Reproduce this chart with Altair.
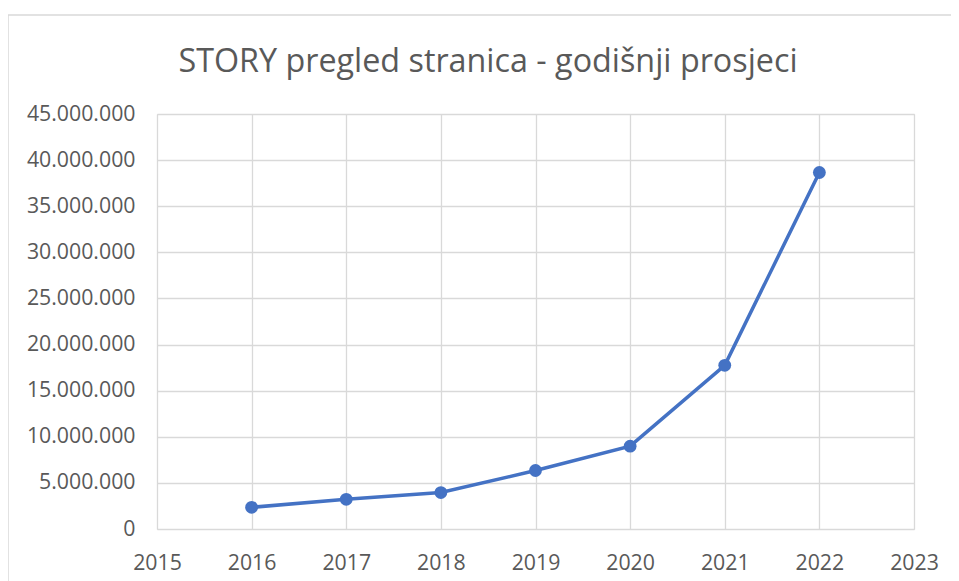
import altair as alt
import pandas as pd

years = [2016, 2017, 2018, 2019, 2020, 2021, 2022]
views = [2350000, 3220000, 3950000, 6340000, 8980000, 17750000, 38660000]

x_ticks = list(range(2015, 2024))
y_ticks = list(range(0, 45000001, 5000000))

title_text = "STORY pregled stranica - godišnji prosjeci"

df = pd.DataFrame({"year": years, "views": views})

W, H = 757, 415
PAD = {"left": 149, "top": 106, "right": 37, "bottom": 56}
GRID = "#d9d9d9"
TXT = "#595959"
FONT = "Open Sans"
LBL = 21.3

x_enc = alt.X(
    "year:Q",
    scale=alt.Scale(domain=[2015, 2023], nice=False, zero=False),
    axis=alt.Axis(
        values=x_ticks, format="d", title=None, grid=True, gridColor=GRID,
        gridWidth=1.3, domain=False, ticks=False, labelPadding=23,
        labelFlush=False, labelOverlap=False,
        labelFontSize=LBL, labelColor=TXT, labelFont=FONT,
    ),
)
y_enc = alt.Y(
    "views:Q",
    scale=alt.Scale(domain=[0, 45000000], nice=False),
    axis=alt.Axis(
        values=y_ticks, title=None, grid=True, gridColor=GRID, gridWidth=1.3,
        domain=False, ticks=False, labelPadding=22, labelFontSize=LBL,
        labelFlush=False, labelOverlap=False,
        labelColor=TXT, labelFont=FONT,
        labelExpr="replace(format(datum.value, ','), regexp(',', 'g'), '.')",
    ),
)

line = alt.Chart(df).mark_line(color="#4472C4", strokeWidth=3.5).encode(x=x_enc, y=y_enc)
pts = alt.Chart(df).mark_circle(color="#4472C4", size=165, opacity=1).encode(x="year:Q", y="views:Q")

frame_data = alt.Data(values=[{"k": 1}])
frame_left = alt.Chart(frame_data).mark_rule(color=GRID, strokeWidth=1.5).encode(
    x=alt.value(-PAD["left"]), y=alt.value(-99), y2=alt.value(H + PAD["bottom"] + 10)
)
frame_top = alt.Chart(frame_data).mark_rule(color=GRID, strokeWidth=1.5).encode(
    x=alt.value(-PAD["left"]), x2=alt.value(W + PAD["right"] + 10), y=alt.value(-99)
)

title_mark = alt.Chart(alt.Data(values=[{"t": title_text}])).mark_text(
    font=FONT, fontSize=32.3, color=TXT, align="center", baseline="alphabetic"
).encode(text="t:N", x=alt.value(331), y=alt.value(-42))

chart = alt.layer(frame_left, frame_top, title_mark, line, pts).properties(
    width=W, height=H,
    autosize=alt.AutoSizeParams(type="none"),
    padding=PAD,
).configure_view(stroke=None).configure(background="white")

chart.save("out.html", embed_options={"renderer": "svg", "actions": False})
